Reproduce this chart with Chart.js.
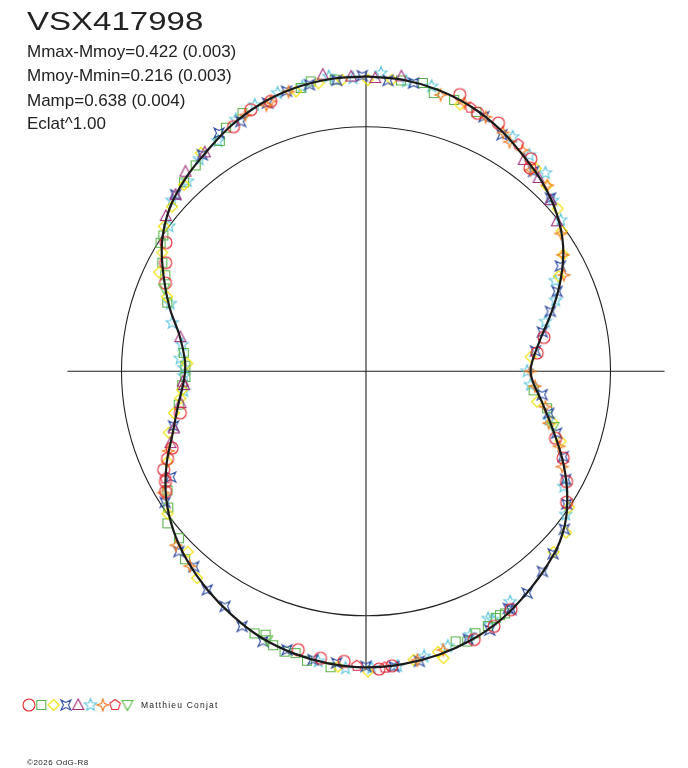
<!DOCTYPE html>
<html>
<head>
<meta charset="utf-8">
<script src="https://cdn.jsdelivr.net/npm/chart.js@4.4.1/dist/chart.umd.min.js"></script>
<style>
  body { margin: 0; background: #fff; }
  #wrap { position: relative; width: 688px; height: 768px; overflow: hidden; }
  #chart { position: absolute; left: 0; top: 0; }
  .txt { position: absolute; font-family: "Liberation Sans", Arial, sans-serif; color: #222; white-space: nowrap; line-height: 1; }
</style>
</head>
<body>
<div id="wrap">
  <canvas id="chart" width="688" height="768"></canvas>
  <div class="txt" style="left:27px;top:8px;font-size:26px;transform:scaleX(1.27);transform-origin:0 0;">VSX417998</div>
  <div class="txt" style="left:27px;top:43px;font-size:17px;">Mmax-Mmoy=0.422 (0.003)</div>
  <div class="txt" style="left:27px;top:67px;font-size:17px;">Mmoy-Mmin=0.216 (0.003)</div>
  <div class="txt" style="left:27px;top:92px;font-size:17px;">Mamp=0.638 (0.004)</div>
  <div class="txt" style="left:27px;top:115px;font-size:17px;">Eclat^1.00</div>
  <div class="txt" style="left:141px;top:701px;font-size:8.5px;letter-spacing:1.2px;">Matthieu Conjat</div>
  <div class="txt" style="left:27px;top:759px;font-size:8px;letter-spacing:0.5px;">©2026 OdG-R8</div>
</div>
<script>
  // Courbe lissée : phase (0..1) et éclat relatif (1 = éclat moyen)
  const fitPhase = [0, 0.02, 0.04, 0.06, 0.08, 0.10, 0.12, 0.14, 0.16, 0.18, 0.20, 0.22, 0.24, 0.25,
    0.26, 0.28, 0.30, 0.32, 0.34, 0.36, 0.38, 0.40, 0.42, 0.44, 0.46, 0.48, 0.50,
    0.52, 0.54, 0.56, 0.58, 0.60, 0.62, 0.64, 0.66, 0.68, 0.70, 0.72, 0.74, 0.75,
    0.76, 0.78, 0.80, 0.82, 0.84, 0.86, 0.88, 0.90, 0.92, 0.94, 0.96, 0.98, 1.00];
  const fitFlux = [1.206, 1.202, 1.188, 1.165, 1.132, 1.092, 1.056, 1.012, 0.955, 0.880, 0.800, 0.728, 0.682, 0.673,
    0.684, 0.738, 0.808, 0.893, 0.975, 1.043, 1.085, 1.120, 1.155, 1.180, 1.197, 1.207, 1.211,
    1.205, 1.191, 1.170, 1.138, 1.104, 1.066, 1.022, 0.968, 0.902, 0.832, 0.784, 0.748, 0.740,
    0.742, 0.776, 0.845, 0.915, 0.988, 1.043, 1.080, 1.110, 1.146, 1.175, 1.194, 1.204, 1.206];

  // Mesures par symbole : [phase, éclat relatif]
  const circlePts = [[0.052,1.195],[0.065,1.150],[0.078,1.151],[0.105,1.100],[0.108,1.069],[0.220,0.741],[0.233,0.704],
    [0.304,0.822],[0.316,0.881],[0.330,0.936],[0.342,0.980],[0.413,1.141],[0.426,1.167],[0.439,1.183],[0.486,1.209],
    [0.493,1.219],[0.512,1.190],[0.525,1.188],[0.538,1.172],[0.664,0.956],[0.670,0.936],[0.678,0.920],[0.684,0.887],
    [0.690,0.853],[0.715,0.778],[0.816,0.896],[0.829,0.932],[0.841,0.973],[0.921,1.138],[0.934,1.169],[0.946,1.171]];
  const squarePts = [[0.019,1.198],[0.031,1.202],[0.038,1.171],[0.050,1.167],[0.064,1.153],[0.268,0.690],[0.282,0.756],
    [0.417,1.142],[0.420,1.138],[0.423,1.140],[0.429,1.155],[0.437,1.161],[0.443,1.180],[0.449,1.164],[0.519,1.219],
    [0.532,1.208],[0.539,1.188],[0.545,1.194],[0.552,1.183],[0.558,1.153],[0.564,1.165],[0.622,1.067],[0.634,1.025],
    [0.646,1.023],[0.654,0.982],[0.664,0.947],[0.722,0.778],[0.738,0.754],[0.745,0.739],[0.755,0.739],[0.766,0.749],
    [0.803,0.860],[0.821,0.910],[0.828,0.944],[0.839,0.991],[0.844,0.998],[0.878,1.073],[0.890,1.093],[0.910,1.116],
    [0.917,1.149],[0.929,1.171],[0.964,1.189],[0.970,1.207],[0.983,1.200]];
  const diamondPts = [[0.001,1.192],[0.014,1.197],[0.054,1.157],[0.111,1.082],[0.123,1.059],[0.138,1.028],[0.151,0.985],
    [0.165,0.937],[0.177,0.879],[0.236,0.676],[0.278,0.711],[0.292,0.789],[0.305,0.846],[0.344,1.000],[0.358,1.051],
    [0.372,1.065],[0.458,1.215],[0.460,1.185],[0.474,1.196],[0.499,1.228],[0.515,1.213],[0.609,1.092],[0.624,1.038],
    [0.651,0.999],[0.682,0.893],[0.702,0.845],[0.716,0.804],[0.727,0.767],[0.734,0.756],[0.757,0.732],[0.807,0.869],
    [0.821,0.938],[0.834,0.964],[0.849,1.017],[0.862,1.041],[0.877,1.066],[0.897,1.120],[0.961,1.180],[0.974,1.194],
    [0.987,1.196]];
  const crossStarPts = [[0.012,1.193],[0.026,1.195],[0.069,1.148],[0.083,1.116],[0.111,1.067],[0.130,1.035],[0.171,0.904],
    [0.187,0.847],[0.200,0.793],[0.215,0.739],[0.231,0.698],[0.271,0.727],[0.286,0.767],[0.300,0.819],[0.315,0.879],
    [0.329,0.929],[0.343,0.984],[0.357,1.037],[0.373,1.069],[0.385,1.091],[0.400,1.121],[0.413,1.141],[0.414,1.131],
    [0.429,1.173],[0.442,1.173],[0.471,1.206],[0.485,1.213],[0.500,1.207],[0.516,1.199],[0.529,1.199],[0.544,1.184],
    [0.558,1.182],[0.572,1.160],[0.586,1.121],[0.600,1.105],[0.615,1.065],[0.628,1.063],[0.658,0.981],[0.671,0.908],
    [0.706,0.818],[0.869,1.062],[0.897,1.110],[0.912,1.145],[0.926,1.143],[0.944,1.169],[0.956,1.191],[0.969,1.195],
    [0.984,1.196],[0.998,1.209]];
  const trianglePts = [[0.005,1.200],[0.019,1.215],[0.102,1.079],[0.116,1.060],[0.131,1.030],[0.144,0.993],[0.694,0.852],
    [0.704,0.820],[0.723,0.770],[0.738,0.746],[0.741,0.750],[0.779,0.772],[0.855,1.036],[0.869,1.062],[0.883,1.101],
    [0.899,1.112],[0.977,1.226],[0.992,1.207]];
  const starPts = [[0.008,1.221],[0.022,1.197],[0.036,1.196],[0.089,1.131],[0.103,1.108],[0.117,1.094],[0.132,1.035],
    [0.145,1.008],[0.179,0.858],[0.193,0.828],[0.207,0.762],[0.250,0.659],[0.263,0.675],[0.291,0.774],[0.334,0.936],
    [0.349,1.005],[0.411,1.112],[0.425,1.140],[0.427,1.128],[0.440,1.159],[0.454,1.173],[0.468,1.190],[0.483,1.212],
    [0.497,1.214],[0.511,1.217],[0.526,1.202],[0.733,0.750],[0.746,0.745],[0.753,0.745],[0.761,0.762],[0.773,0.760],
    [0.789,0.817],[0.803,0.847],[0.851,1.001],[0.865,1.058],[0.880,1.067],[0.894,1.103],[0.909,1.120],[0.924,1.159],
    [0.937,1.180],[0.951,1.194],[0.965,1.193],[0.980,1.215],[0.993,1.200]];
  const sparklePts = [[0.042,1.171],[0.056,1.168],[0.070,1.150],[0.083,1.126],[0.089,1.107],[0.098,1.108],[0.109,1.064],
    [0.123,1.063],[0.152,0.976],[0.165,0.935],[0.178,0.900],[0.250,0.673],[0.264,0.694],[0.281,0.748],[0.294,0.777],
    [0.309,0.847],[0.322,0.892],[0.457,1.183],[0.472,1.200],[0.617,1.074],[0.632,1.054],[0.664,0.965],[0.689,0.871],
    [0.930,1.159],[0.943,1.162],[0.946,1.171],[0.957,1.187]];
  const pentagonPts = [[0.060,1.160],[0.094,1.118],[0.490,1.214],[0.505,1.205],[0.672,0.930]];
  const triDownPts = [[0.296,0.800],[0.556,1.172],[0.812,0.892]];

  const meanFlux = 1;      // cercle de l'éclat moyen
  const axisReach = 1.221; // longueur des axes

  // phase -> angle (0 en haut, sens horaire), éclat -> rayon
  function toXY(pts) {
    return pts.map(p => ({
      x: p[1] * Math.sin(2 * Math.PI * p[0]),
      y: p[1] * Math.cos(2 * Math.PI * p[0])
    }));
  }

  // Dessin des symboles
  function symbol(color, draw) {
    const c = document.createElement('canvas');
    c.width = 16; c.height = 16;
    const g = c.getContext('2d');
    g.strokeStyle = color;
    g.lineWidth = 1.1;
    g.beginPath();
    draw(g);
    g.closePath();
    g.stroke();
    return c;
  }
  function poly(g, pts) {
    pts.forEach((p, i) => i ? g.lineTo(8 + p[0], 8 + p[1]) : g.moveTo(8 + p[0], 8 + p[1]));
  }
  function regular(n, rOut, rIn, rot) {
    const out = [];
    const k = rIn ? 2 * n : n;
    for (let i = 0; i < k; i++) {
      const a = rot + i * 2 * Math.PI / k;
      const r = (rIn && i % 2) ? rIn : rOut;
      out.push([r * Math.cos(a), r * Math.sin(a)]);
    }
    return out;
  }

  const symCircle = symbol('#e3262f', g => g.arc(8, 8, 6, 0, 2 * Math.PI));
  const symSquare = symbol('#5ab34a', g => poly(g, [[-4.5,-4.5],[4.5,-4.5],[4.5,4.5],[-4.5,4.5]]));
  const symDiamond = symbol('#f0e000', g => poly(g, [[0,-5.5],[5.5,0],[0,5.5],[-5.5,0]]));
  const symCross = symbol('#2e4a9e', g => poly(g, [[-5,-5],[0,-2.5],[5,-5],[2.5,0],[5,5],[0,2.5],[-5,5],[-2.5,0]]));
  const symTriangle = symbol('#a3307a', g => poly(g, [[0,-6],[5.5,4.5],[-5.5,4.5]]));
  const symStar = symbol('#5cc4dc', g => poly(g, regular(5, 6.5, 2.8, -Math.PI / 2)));
  const symSparkle = symbol('#f07c22', g => poly(g, [[0,-6],[1.5,-1.5],[6,0],[1.5,1.5],[0,6],[-1.5,1.5],[-6,0],[-1.5,-1.5]]));
  const symPentagon = symbol('#e8283c', g => poly(g, regular(5, 5.5, 0, -Math.PI / 2)));
  const symTriDown = symbol('#5cbf48', g => poly(g, [[-5.5,-4.5],[5.5,-4.5],[0,5.5]]));

  const legendSyms = [symCircle, symSquare, symDiamond, symCross, symTriangle, symStar, symSparkle, symPentagon, symTriDown];

  function pointSet(pts, sym) {
    return { data: toXY(pts), pointStyle: sym, pointRadius: 5, showLine: false };
  }

  // Cercle moyen, axes et légende
  const decor = {
    id: 'decor',
    beforeDatasetsDraw(chart) {
      const { ctx, scales: { x, y } } = chart;
      const cx = x.getPixelForValue(0), cy = y.getPixelForValue(0);
      const r = x.getPixelForValue(meanFlux) - cx;
      ctx.save();
      ctx.strokeStyle = '#222';
      ctx.lineWidth = 1.1;
      ctx.beginPath();
      ctx.arc(cx, cy, r, 0, 2 * Math.PI);
      ctx.stroke();
      ctx.beginPath();
      ctx.moveTo(x.getPixelForValue(-axisReach), cy);
      ctx.lineTo(x.getPixelForValue(axisReach), cy);
      ctx.moveTo(cx, y.getPixelForValue(axisReach));
      ctx.lineTo(cx, y.getPixelForValue(-axisReach));
      ctx.stroke();
      ctx.restore();
    },
    afterDraw(chart) {
      const ctx = chart.ctx;
      legendSyms.forEach((s, i) => ctx.drawImage(s, 21 + i * 12.3, 697));
    }
  };

  new Chart(document.getElementById('chart'), {
    type: 'scatter',
    data: {
      datasets: [
        {
          data: toXY(fitPhase.map((p, i) => [p, fitFlux[i]])),
          showLine: true,
          tension: 0.4,
          borderColor: '#1a1a1a',
          borderWidth: 2.2,
          pointRadius: 0
        },
        pointSet(triDownPts, symTriDown),
        pointSet(pentagonPts, symPentagon),
        pointSet(circlePts, symCircle),
        pointSet(sparklePts, symSparkle),
        pointSet(trianglePts, symTriangle),
        pointSet(crossStarPts, symCross),
        pointSet(diamondPts, symDiamond),
        pointSet(squarePts, symSquare),
        pointSet(starPts, symStar)
      ]
    },
    options: {
      responsive: false,
      animation: false,
      layout: { padding: 0, autoPadding: false },
      plugins: { legend: { display: false }, tooltip: { enabled: false } },
      scales: {
        x: { type: 'linear', display: false, min: -366 / 244.5, max: 322 / 244.5 },
        y: { type: 'linear', display: false, min: -396.7 / 244.5, max: 371.3 / 244.5 }
      }
    },
    plugins: [decor]
  });
</script>
</body>
</html>
